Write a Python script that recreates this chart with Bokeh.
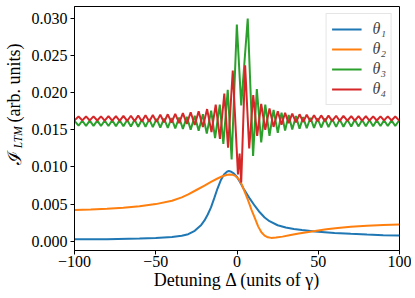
import math
from bokeh.plotting import figure
from bokeh.layouts import row
from bokeh.models import (FixedTicker, PrintfTickFormatter, Range1d,
                          Legend, LegendItem, ColumnDataSource)
from bokeh.core.properties import value
from bokeh.embed import file_html
from bokeh.resources import INLINE

# ---------------- data ----------------
detuning_smooth_1 = [-100, -80, -60, -50, -40, -34, -30, -26, -22, -20, -18, -16, -14, -12,
                     -10, -8, -6, -5, -4, -2, 0, 2, 4, 6, 8, 11, 14, 17, 20, 25, 30, 35,
                     40, 48, 60, 70, 80, 90, 100]
theta1 = [0.00025, 0.00028, 0.00035, 0.00042, 0.00058, 0.00075, 0.00095, 0.00140, 0.00220,
          0.00280, 0.00360, 0.00455, 0.00580, 0.00710, 0.00820, 0.00900, 0.00940, 0.00945,
          0.00940, 0.00915, 0.00865, 0.00790, 0.00710, 0.00640, 0.00570, 0.00475, 0.00390,
          0.00320, 0.00270, 0.00215, 0.00185, 0.00165, 0.00150, 0.00132, 0.00112, 0.00100,
          0.00090, 0.00082, 0.00076]

detuning_smooth_2 = [-100, -90, -80, -70, -60, -50, -40, -34, -30, -25, -20, -16, -12, -9,
                     -6, -4.5, -3, -1, 1, 3, 5, 7, 9, 11, 13, 15, 17, 19, 21, 24, 28, 33,
                     38, 43, 48, 55, 62, 70, 80, 90, 100]
theta2 = [0.00420, 0.00428, 0.00437, 0.00450, 0.00470, 0.00500, 0.00545, 0.00590, 0.00630,
          0.00690, 0.00750, 0.00800, 0.00845, 0.00875, 0.00895, 0.00900, 0.00897, 0.00880,
          0.00840, 0.00760, 0.00650, 0.00540, 0.00420, 0.00310, 0.00200, 0.00120, 0.00075,
          0.00052, 0.00045, 0.00050, 0.00062, 0.00085, 0.00105, 0.00122, 0.00137, 0.00160,
          0.00178, 0.00195, 0.00208, 0.00218, 0.00225]

detuning_osc_3 = [-100.0, -97.5, -95.2, -92.9, -90.6, -88.3, -86.0, -83.7, -81.4, -79.1,
                  -76.8, -74.5, -72.2, -69.9, -67.6, -65.3, -63.0, -60.8, -58.5, -56.3,
                  -54.0, -51.8, -49.5, -47.2, -44.9, -42.6, -40.3, -38.0, -35.6, -33.3,
                  -30.9, -28.5, -26.0, -23.6, -21.0, -18.6, -15.9, -13.5, -10.6, -8.4,
                  -5.7, -3.3, -0.1, 2.6, 6.6, 9.9, 12.2, 14.9, 17.4, 20.0,
                  22.5, 25.1, 27.4, 29.6, 31.8, 34.0, 36.3, 38.5, 40.7, 42.9,
                  45.2, 47.4, 49.6, 51.8, 54.1, 56.3, 58.6, 61.0, 63.2, 65.5,
                  67.9, 70.3, 72.5, 74.8, 77.0, 79.3, 81.5, 83.8, 86.0, 88.3,
                  90.5, 92.8, 95.1, 97.4, 99.7, 100.0]
theta3 = [0.01622, 0.01556, 0.01623, 0.01555, 0.01624, 0.01554, 0.01625, 0.01553, 0.01627, 0.01552,
          0.01629, 0.01550, 0.01631, 0.01548, 0.01634, 0.01546, 0.01637, 0.01543, 0.01640, 0.01540,
          0.01644, 0.01536, 0.01648, 0.01532, 0.01653, 0.01527, 0.01660, 0.01521, 0.01667, 0.01513,
          0.01676, 0.01503, 0.01690, 0.01488, 0.01710, 0.01450, 0.01760, 0.01390, 0.01840, 0.01310,
          0.02040, 0.01100, 0.02920, 0.01830, 0.03000, 0.01150, 0.02050, 0.01330, 0.01840, 0.01420,
          0.01770, 0.01460, 0.01730, 0.01490, 0.01700, 0.01505, 0.01685, 0.01515, 0.01672, 0.01522,
          0.01663, 0.01527, 0.01656, 0.01532, 0.01650, 0.01536, 0.01645, 0.01540, 0.01641, 0.01543,
          0.01638, 0.01545, 0.01636, 0.01547, 0.01634, 0.01549, 0.01632, 0.01550, 0.01630, 0.01551,
          0.01629, 0.01552, 0.01628, 0.01553, 0.01627, 0.01625]

detuning_osc_4 = [-100.0, -97.5, -95.2, -92.9, -90.6, -88.3, -86.0, -83.7, -81.4, -79.1,
                  -76.8, -74.5, -72.2, -69.9, -67.6, -65.3, -63.0, -60.8, -58.5, -56.3,
                  -54.0, -51.8, -49.5, -47.2, -44.9, -42.6, -40.3, -38.0, -35.6, -33.3,
                  -30.9, -28.5, -26.0, -23.6, -21.0, -18.4, -15.7, -13.1, -10.5, -7.8,
                  -5.5, -2.6, 0.6, 1.6, 2.6, 5.0, 7.5, 10.0, 12.4, 14.9,
                  17.4, 20.0, 22.5, 25.1, 27.4, 29.6, 31.8, 34.0, 36.3, 38.5,
                  40.7, 42.9, 45.2, 47.4, 49.6, 51.8, 54.1, 56.3, 58.6, 61.0,
                  63.2, 65.5, 67.9, 70.3, 72.5, 74.8, 77.0, 79.3, 81.5, 83.8,
                  86.0, 88.3, 90.5, 92.8, 95.1, 97.4, 99.7, 100.0]
theta4 = [0.01628, 0.01680, 0.01628, 0.01681, 0.01627, 0.01682, 0.01626, 0.01683, 0.01625, 0.01684,
          0.01624, 0.01686, 0.01622, 0.01688, 0.01620, 0.01690, 0.01618, 0.01693, 0.01615, 0.01696,
          0.01612, 0.01700, 0.01608, 0.01704, 0.01603, 0.01710, 0.01597, 0.01717, 0.01590, 0.01725,
          0.01580, 0.01737, 0.01566, 0.01752, 0.01540, 0.01780, 0.01470, 0.01840, 0.01380, 0.01990,
          0.01260, 0.02300, 0.00900, 0.01180, 0.00790, 0.02370, 0.01250, 0.01970, 0.01420, 0.01850,
          0.01500, 0.01790, 0.01540, 0.01750, 0.01570, 0.01730, 0.01590, 0.01720, 0.01600, 0.01710,
          0.01607, 0.01703, 0.01612, 0.01698, 0.01615, 0.01695, 0.01618, 0.01692, 0.01620, 0.01690,
          0.01622, 0.01688, 0.01623, 0.01686, 0.01624, 0.01685, 0.01625, 0.01684, 0.01626, 0.01683,
          0.01626, 0.01682, 0.01627, 0.01682, 0.01627, 0.01681, 0.01628, 0.01630]

series_labels = ["θ₁", "θ₂", "θ₃", "θ₄"]
series_colors = ["#1f77b4", "#ff7f0e", "#2ca02c", "#d62728"]
x_ticks = [-100, -50, 0, 50, 100]
x_tick_labels = ["−100", "−50", "0", "50", "100"]
y_ticks = [0.0, 0.005, 0.010, 0.015, 0.020, 0.025, 0.030]
x_title = "Detuning Δ (units of γ)"
y_title_parts = ["ℐ", "LTM", "(arb. units)"]

FONT = "Liberation Serif"

# ---------------- y-axis title strip (its own small figure) ----------------
ylab = figure(width=28, height=290, output_backend="svg", toolbar_location=None,
              x_range=Range1d(0, 28), y_range=Range1d(0, 290),
              x_axis_type=None, y_axis_type=None, min_border=0)
ylab.outline_line_color = None
ylab.xgrid.visible = False
ylab.ygrid.visible = False
ylab.text(x=[13], y=[100], text=[y_title_parts[0]], angle=math.pi / 2,
          text_align="left", text_baseline="middle", text_color="black",
          text_font=value("DejaVu Serif"), text_font_size=value("19px"))
ylab.text(x=[17.5], y=[120], text=[y_title_parts[1]], angle=math.pi / 2,
          text_align="left", text_baseline="middle", text_color="black",
          text_font=value(FONT), text_font_style="italic",
          text_font_size=value("11.5px"))
ylab.text(x=[13], y=[151], text=[y_title_parts[2]], angle=math.pi / 2,
          text_align="left", text_baseline="middle", text_color="black",
          text_font=value(FONT), text_font_size=value("18px"))

# ---------------- main figure ----------------
p = figure(frame_width=325, frame_height=244, output_backend="svg", toolbar_location=None,
           x_range=Range1d(-100, 100), y_range=Range1d(-0.00125, 0.03162),
           min_border_left=42, min_border_right=12, min_border_top=6,
           min_border_bottom=40)
p.background_fill_color = "white"
p.border_fill_color = "white"
p.outline_line_color = "black"
p.outline_line_alpha = 1.0
p.xgrid.visible = False
p.ygrid.visible = False

pairs = [(detuning_smooth_1, theta1), (detuning_smooth_2, theta2),
         (detuning_osc_3, theta3), (detuning_osc_4, theta4)]
renderers = []
for (xs, ys), col in zip(pairs, series_colors):
    src = ColumnDataSource(dict(x=xs, y=ys))
    r = p.line("x", "y", source=src, line_color=col, line_width=2)
    renderers.append(r)

for ax in (p.xaxis[0], p.yaxis[0]):
    ax.axis_line_color = "black"
    ax.major_tick_line_color = "black"
    ax.major_tick_in = 0
    ax.major_tick_out = 4
    ax.minor_tick_line_color = None
    ax.major_label_text_font = FONT
    ax.major_label_text_font_size = "16px"
    ax.major_label_text_color = "black"

p.xaxis.ticker = FixedTicker(ticks=x_ticks)
p.xaxis.major_label_overrides = {t: s for t, s in zip(x_ticks, x_tick_labels)}
p.xaxis.major_label_standoff = 1
p.xaxis.axis_label = x_title
p.xaxis.axis_label_text_font = FONT
p.xaxis.axis_label_text_font_style = "normal"
p.xaxis.axis_label_text_font_size = "18px"
p.xaxis.axis_label_text_color = "black"
p.xaxis.axis_label_standoff = 0
p.yaxis.ticker = FixedTicker(ticks=y_ticks)
p.yaxis.formatter = PrintfTickFormatter(format="%.3f")
p.yaxis.major_label_standoff = 3

# ---------------- legend ----------------
legend = Legend(items=[LegendItem(label=lab, renderers=[r])
                       for lab, r in zip(series_labels, renderers)],
                location="top_right")
legend.margin = 7
legend.padding = 5
legend.spacing = 0
legend.glyph_width = 30
legend.glyph_height = 20
legend.label_height = 20
legend.label_width = 0
legend.label_standoff = 11
legend.label_text_font = FONT
legend.label_text_font_style = "italic"
legend.label_text_font_size = "16px"
legend.border_line_color = "#cccccc"
legend.border_line_width = 1
legend.background_fill_alpha = 0.8
p.add_layout(legend)

layout = row(ylab, p)
open("out.html", "w").write(file_html(layout, INLINE))
